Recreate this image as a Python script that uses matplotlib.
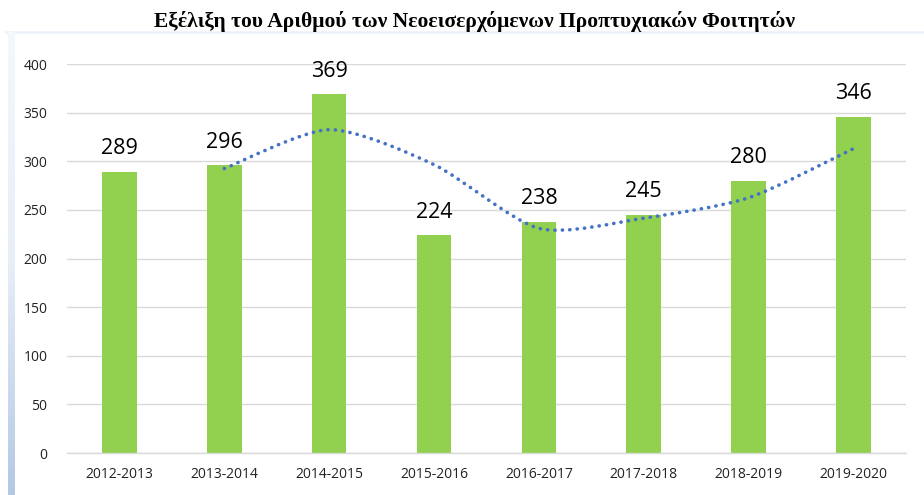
import matplotlib
matplotlib.use("Agg")
import matplotlib.pyplot as plt
import numpy as np
from matplotlib.path import Path
from matplotlib.patches import PathPatch

years = ["2012-2013", "2013-2014", "2014-2015", "2015-2016",
         "2016-2017", "2017-2018", "2018-2019", "2019-2020"]
students = [289, 296, 369, 224, 238, 245, 280, 346]
# dotted trend line (2-period moving average)
trend_x = [1, 2, 3, 4, 5, 6, 7]
trend_y = [292.5, 332.5, 296.5, 231, 241.5, 262.5, 313]

title = "Εξέλιξη του Αριθμού των Νεοεισερχόμενων Προπτυχιακών Φοιτητών"

fig = plt.figure(figsize=(9.24, 4.95), dpi=100)

# pale frame and blue gradient strip on the left, like the pasted chart
frame = fig.add_axes([0.006, 0.0, 0.994, 0.935])
frame.set_xticks([])
frame.set_yticks([])
for s in frame.spines.values():
    s.set_visible(False)
frame.spines["top"].set_visible(True)
frame.spines["top"].set_color("#eef3fa")
frame.spines["top"].set_linewidth(2)
strip = fig.add_axes([0.009, 0.0, 0.007, 0.935])
grad = np.linspace(0, 1, 256).reshape(-1, 1)
strip.imshow(grad, aspect="auto", cmap=matplotlib.colors.LinearSegmentedColormap.from_list(
    "edge", ["#f4f8fd", "#e6eef8", "#b4c8e4"]))
strip.axis("off")

fig.suptitle(title, x=0.514, y=0.978, fontsize=15.5, fontweight="bold",
             family="Liberation Serif")

ax = fig.add_axes([0.0725, 0.0848, 0.908, 0.7859])
x = np.arange(len(years))
ax.bar(x, students, width=0.33, color="#92D050", zorder=2)
for xi, v in zip(x, students):
    ax.annotate(str(v), (xi, v), xytext=(0, 9), textcoords="offset points",
                ha="center", va="bottom", fontsize=15.5, family="Open Sans")

# smooth curve through the trend values (cubic Bezier segments)
tx = np.array(trend_x, dtype=float)
ty = np.array(trend_y, dtype=float)
k = 8.0
verts = [(tx[0], ty[0])]
codes = [Path.MOVETO]
for i in range(len(tx) - 1):
    p0 = (tx[max(i - 1, 0)], ty[max(i - 1, 0)])
    p1 = (tx[i], ty[i])
    p2 = (tx[i + 1], ty[i + 1])
    p3 = (tx[min(i + 2, len(tx) - 1)], ty[min(i + 2, len(tx) - 1)])
    c1 = (p1[0] + (p2[0] - p0[0]) / k, p1[1] + (p2[1] - p0[1]) / k)
    c2 = (p2[0] - (p3[0] - p1[0]) / k, p2[1] - (p3[1] - p1[1]) / k)
    verts += [c1, c2, p2]
    codes += [Path.CURVE4] * 3
ax.add_patch(PathPatch(Path(verts, codes), fill=False, edgecolor="#4472C4",
                       linewidth=2.6, linestyle=(0, (0.05, 2.0)),
                       capstyle="round", zorder=3))

ax.set_xlim(-0.5, len(years) - 0.5)
ax.set_ylim(0, 400)
ax.set_yticks(range(0, 401, 50))
ax.set_xticks(x)
ax.set_xticklabels(years)
ax.tick_params(length=0, labelsize=10, colors="#000000", pad=10)
ax.tick_params(axis="y", pad=14)
for lab in ax.get_xticklabels() + ax.get_yticklabels():
    lab.set_family("Open Sans")
    lab.set_color("#222222")
ax.grid(axis="y", color="#d9d9d9", linewidth=1, zorder=0)
ax.set_axisbelow(True)
for side in ["top", "right", "left"]:
    ax.spines[side].set_visible(False)
ax.spines["bottom"].set_color("#d9d9d9")
ax.spines["bottom"].set_linewidth(1)

fig.savefig("out.png", dpi=100)
